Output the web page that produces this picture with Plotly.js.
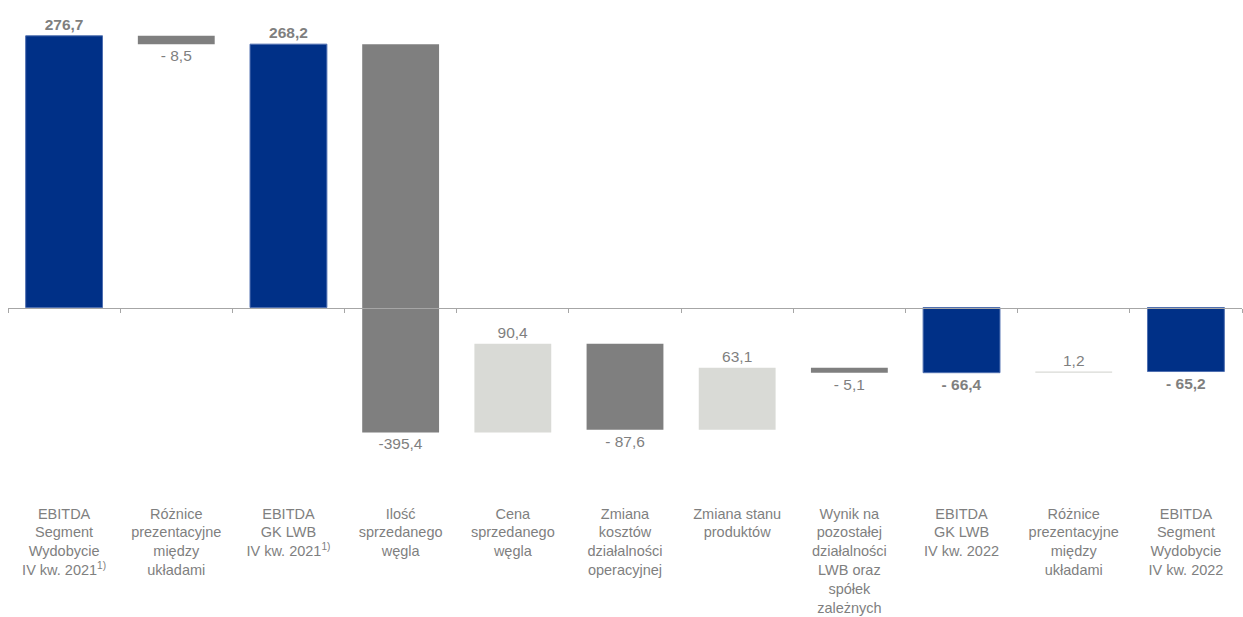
<!DOCTYPE html>
<html>
<head>
<meta charset="utf-8">
<script src="https://cdn.plot.ly/plotly-3.0.1.min.js"></script>
<style>html,body{margin:0;padding:0;background:#fff;}#chart{width:1243px;height:617px;}</style>
</head>
<body>
<div id="chart"></div>
<script>
const categories = [
  "EBITDA<br>Segment<br>Wydobycie<br>IV kw. 2021<sup>1)</sup>",
  "Różnice<br>prezentacyjne<br>między<br>układami",
  "EBITDA<br>GK LWB<br>IV kw. 2021<sup>1)</sup>",
  "Ilość<br>sprzedanego<br>węgla",
  "Cena<br>sprzedanego<br>węgla",
  "Zmiana<br>kosztów<br>działalności<br>operacyjnej",
  "Zmiana stanu<br>produktów",
  "Wynik na<br>pozostałej<br>działalności<br>LWB oraz<br>spółek<br>zależnych",
  "EBITDA<br>GK LWB<br>IV kw. 2022",
  "Różnice<br>prezentacyjne<br>między<br>układami",
  "EBITDA<br>Segment<br>Wydobycie<br>IV kw. 2022"
];
const measures = ["absolute","relative","total","relative","relative","relative","relative","relative","total","relative","total"];
const values = [276.7, -8.5, 0, -395.4, 90.4, -87.6, 63.1, -5.1, 0, 1.2, 0];
const valueLabels = ["276,7","- 8,5","268,2","-395,4","90,4","- 87,6","63,1","- 5,1","- 66,4","1,2","- 65,2"];

const texts = valueLabels.map((t, i) => measures[i] === "relative" ? t : "<b>" + t + "</b>");
const xs = categories.map((c, i) => i);

const yMin = -199.1, yMax = 292.8;
const FONT = "Liberation Sans, Arial, sans-serif";

const trace = {
  type: "waterfall",
  x: xs,
  y: values,
  measure: measures,
  text: texts,
  textposition: "outside",
  textfont: {family: FONT, size: 15.5, color: "#7f7f7f"},
  cliponaxis: false,
  hoverinfo: "none",
  connector: {visible: false},
  increasing: {marker: {color: "#d9dad6", line: {width: 0}}},
  decreasing: {marker: {color: "#7f7f7f", line: {width: 0}}},
  totals: {marker: {color: "#003087", line: {width: 1, color: "#4f6fb0"}}}
};

// invisible helper trace so that the zero-line axis (with boundary ticks) is drawn
const helper = {
  type: "scatter",
  x: xs,
  y: values,
  mode: "none",
  xaxis: "x2",
  yaxis: "y",
  hoverinfo: "none",
  showlegend: false
};

const layout = {
  width: 1243, height: 617,
  margin: {l: 8, r: 1, t: 20, b: 114},
  paper_bgcolor: "#ffffff", plot_bgcolor: "#ffffff",
  showlegend: false,
  waterfallgap: 0.315,
  font: {family: FONT, color: "#7f7f7f", size: 14.5},
  xaxis: {
    type: "linear",
    range: [-0.5, categories.length - 0.5],
    tickmode: "array",
    tickvals: xs,
    ticktext: categories,
    showline: false, showgrid: false, zeroline: false,
    ticks: "",
    tickfont: {family: FONT, size: 14.5, color: "#7f7f7f"}
  },
  xaxis2: {
    type: "linear",
    overlaying: "x",
    anchor: "free",
    position: (0 - yMin) / (yMax - yMin),
    range: [-0.5, categories.length - 0.5],
    autorange: false,
    tickmode: "linear",
    tick0: -0.5, dtick: 1,
    ticks: "outside", ticklen: 4, tickwidth: 1, tickcolor: "#a6a6a6",
    showline: true, linecolor: "#a6a6a6", linewidth: 1,
    showticklabels: false, showgrid: false, zeroline: false
  },
  yaxis: {
    range: [yMin, yMax],
    autorange: false,
    visible: false, showgrid: false, zeroline: false
  }
};

Plotly.newPlot("chart", [trace, helper], layout, {staticPlot: true, displayModeBar: false});
</script>
</body>
</html>
